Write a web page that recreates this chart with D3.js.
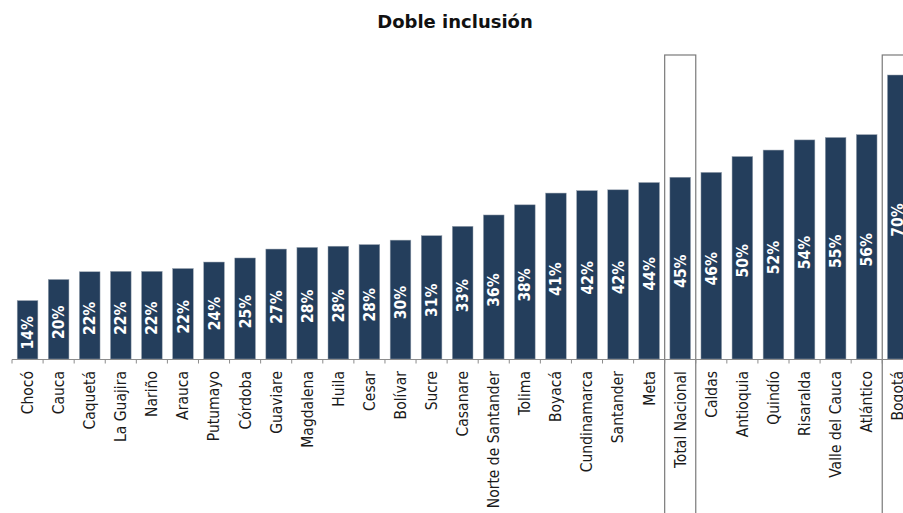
<!DOCTYPE html>
<html><head><meta charset="utf-8">
<script src="https://cdn.jsdelivr.net/npm/d3@7"></script>
<style>body{margin:0;background:#fff}svg{display:block}</style>
</head><body>
<svg id="c" width="903" height="513"></svg>
<script>
const categories = ["Chocó","Cauca","Caquetá","La Guajira","Nariño","Arauca","Putumayo","Córdoba","Guaviare","Magdalena","Huila","Cesar","Bolívar","Sucre","Casanare","Norte de Santander","Tolima","Boyacá","Cundinamarca","Santander","Meta","Total Nacional","Caldas","Antioquia","Quindío","Risaralda","Valle del Cauca","Atlántico","Bogotá"];
const values = [14.4,19.6,21.5,21.6,21.6,22.3,23.9,24.9,27.1,27.5,27.8,28.2,29.3,30.4,32.7,35.5,38.0,40.9,41.5,41.7,43.5,44.8,46.0,49.9,51.5,54.0,54.6,55.3,70.0];
const labels = ["14%","20%","22%","22%","22%","22%","24%","25%","27%","28%","28%","28%","30%","31%","33%","36%","38%","41%","42%","42%","44%","45%","46%","50%","52%","54%","55%","56%","70%"];
const highlighted = ["Total Nacional","Bogotá"];
const title = "Doble inclusión";

const svg = d3.select("#c");
const base = 359;
const x = d3.scaleBand().domain(categories).range([12, 12 + 29*31.08]).paddingInner(0.335).paddingOuter(0.1675);
const y = d3.scaleLinear().domain([0, 70]).range([base, 75]);
const step = x.step();

svg.append("text").attr("x", 455).attr("y", 28).attr("text-anchor","middle")
  .attr("font-family","DejaVu Sans").attr("font-weight","bold").attr("font-size",18)
  .attr("fill","#111").text(title);

// highlight boxes
svg.selectAll("rect.hl").data(highlighted).join("rect").attr("class","hl")
  .attr("x", d => x(d) - (step - x.bandwidth())/2)
  .attr("y", 55).attr("width", step).attr("height", 470)
  .attr("fill","none").attr("stroke","#7a7a7a").attr("stroke-width",1.2);

svg.selectAll("rect.bar").data(values).join("rect").attr("class","bar")
  .attr("x",(d,i)=>x(categories[i])).attr("width",x.bandwidth())
  .attr("y",d=>y(d)).attr("height",d=>base-y(d))
  .attr("fill","#243e5c").attr("stroke","#9aa4b0").attr("stroke-width",0.5);

// axis
const ax = svg.append("g").attr("transform",`translate(0,${base+0.5})`);
ax.append("line").attr("x1",12).attr("x2",903).attr("stroke","#8c8c8c").attr("stroke-width",1);
const tickPos = d3.range(0, 30).map(i => 12 + i*step);
ax.selectAll("line.t").data(tickPos).join("line").attr("class","t")
  .attr("x1",d=>d).attr("x2",d=>d).attr("y1",0).attr("y2",4)
  .attr("stroke","#8c8c8c").attr("stroke-width",1);

// category labels
svg.selectAll("text.cat").data(categories).join("text").attr("class","cat")
  .attr("transform",d=>`translate(${x(d)+x.bandwidth()/2},371) rotate(-90)`)
  .attr("text-anchor","end").attr("dy","0.35em")
  .attr("font-family","DejaVu Sans Condensed, DejaVu Sans").attr("font-size",15.5)
  .attr("fill","#1a1a1a").text(d=>d);

// value labels
svg.selectAll("text.val").data(values).join("text").attr("class","val")
  .attr("transform",(d,i)=>`translate(${x(categories[i])+x.bandwidth()/2},${(y(d)+base)/2+3}) rotate(-90)`)
  .attr("text-anchor","middle").attr("dy","0.36em")
  .attr("font-family","DejaVu Sans Condensed, DejaVu Sans").attr("font-weight","bold").attr("font-size",15.5)
  .attr("fill","#fff").text((d,i)=>labels[i]);
</script>
</body></html>
